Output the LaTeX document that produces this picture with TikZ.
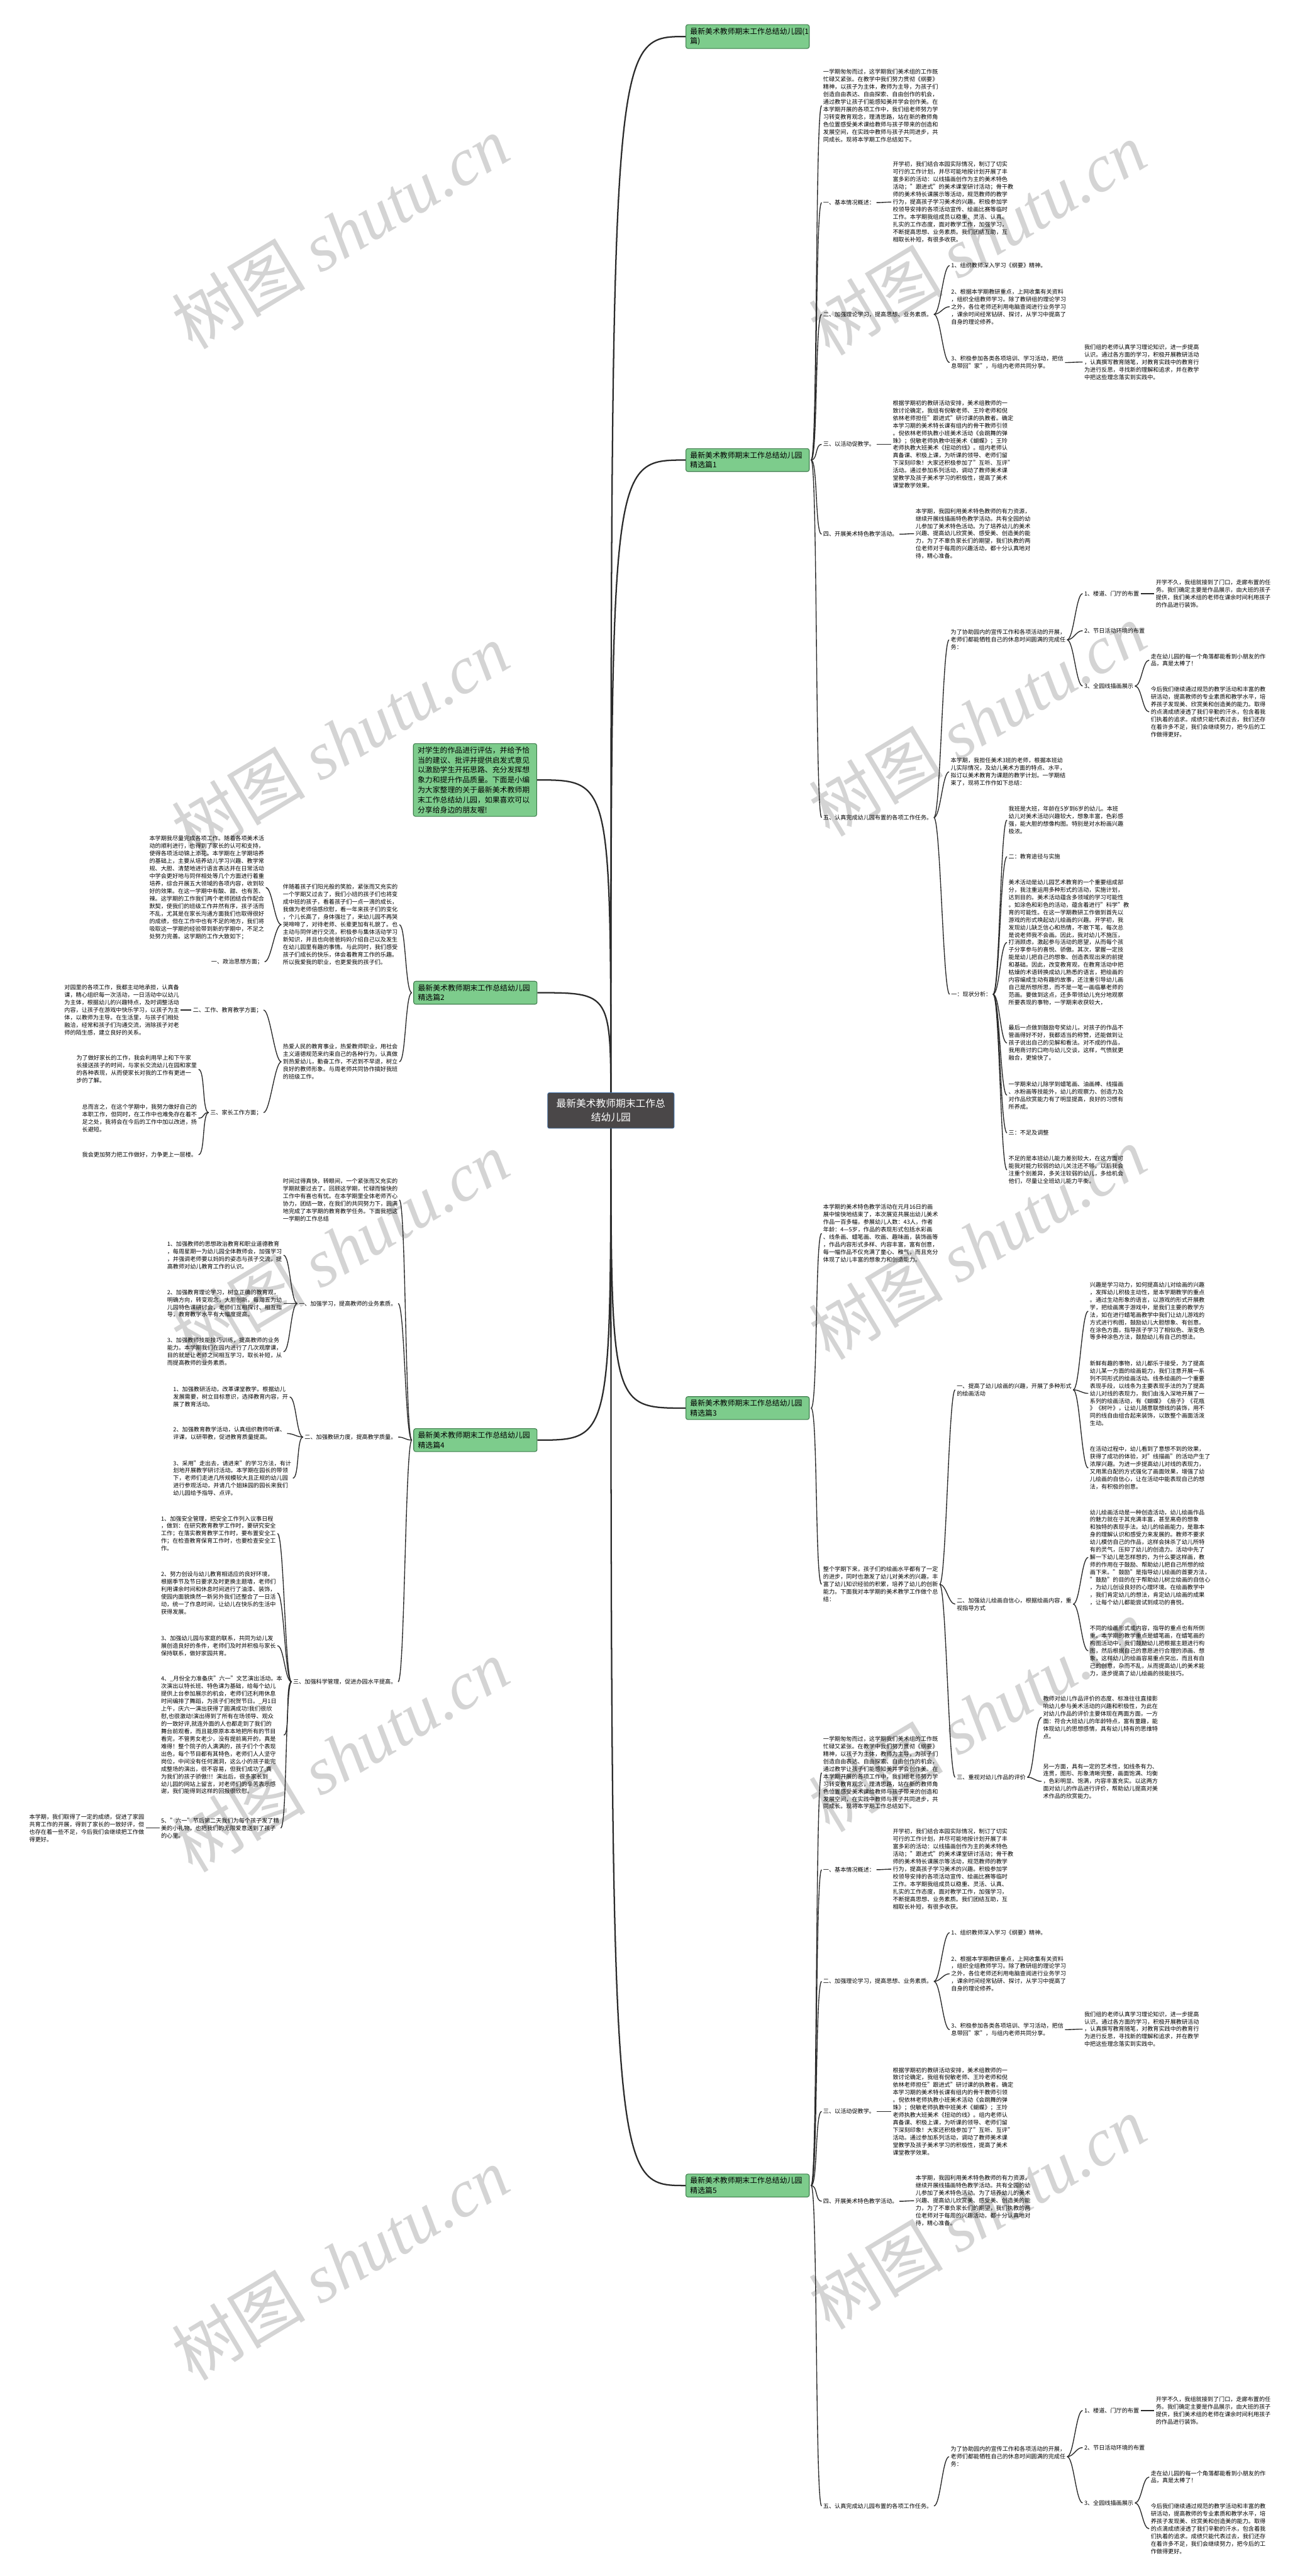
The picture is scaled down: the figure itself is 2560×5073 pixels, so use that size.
\documentclass[tikz,border=0pt]{standalone}
\usepackage{fontspec}
\setmainfont{Noto Sans CJK SC}
\newfontfamily\wmlat{Liberation Serif}
\usetikzlibrary{calc}
\pgfdeclarelayer{bg}
\pgfsetlayers{bg,main}
\definecolor{grn}{HTML}{7DCC8C}
\definecolor{grnb}{HTML}{3E7D4C}
\definecolor{rootf}{HTML}{4A4748}
\definecolor{rootb}{HTML}{3D6FA8}
\definecolor{lnc}{HTML}{2B2B2B}
\definecolor{wmc}{HTML}{D4D4D4}
\newcommand\fsz{\fontsize{11.3}{14.8}\selectfont}
\newcommand\fbz{\fontsize{14.7}{19.6}\selectfont}
\newcommand\frz{\fontsize{19.5}{27}\selectfont}
\newcommand\rcn[2]{\draw[con] ([xshift=3]#1.east) .. controls +(13,0) and +(-13,0) .. ([xshift=-3]#2.west);}
\newcommand\lcn[2]{\draw[con] ([xshift=-3]#1.west) .. controls +(-13,0) and +(13,0) .. ([xshift=3]#2.east);}
\newcommand\rtc[1]{\draw[rcon] (root.center) .. controls (root.center |- #1.west) .. (#1.west);}
\newcommand\ltc[1]{\draw[rcon] (root.center) .. controls (root.center |- #1.east) .. (#1.east);}
% shared texts
\newcommand\txIntro{一学期匆匆而过，这学期我们美术组的工作既\\忙碌又紧张。在教学中我们努力贯彻《纲要》\\精神，以孩子为主体，教师为主导，为孩子们\\创造自由表达、自由探索、自由创作的机会，\\通过教学让孩子们能感知美并学会创作美。在\\本学期开展的各项工作中，我们组老师努力学\\习转变教育观念，理清思路，站在新的教师角\\色位置感受美术课给教师与孩子带来的创造和\\发展空间，在实践中教师与孩子共同进步，共\\同成长。现将本学期工作总结如下。}
\newcommand\txOneA{开学初，我们结合本园实际情况，制订了切实\\可行的工作计划，并尽可能地按计划开展了丰\\富多彩的活动：以线描画创作为主的美术特色\\活动；"跟进式"的美术课堂研讨活动；骨干教\\师的美术特长课展示等活动，规范教师的教学\\行为，提高孩子学习美术的兴趣。积极参加学\\校领导安排的各项活动宣传、绘画比赛等临时\\工作。本学期我组成员以稳重、灵活、认真、\\扎实的工作态度，面对教学工作，加强学习，\\不断提高思想、业务素质。我们团结互助，互\\相取长补短，有很多收获。}
\newcommand\txTwoB{2、根据本学期教研重点，上网收集有关资料\\，组织全组教师学习。除了教研组的理论学习\\之外，各位老师还利用电脑查阅进行业务学习\\，课余时间经常钻研、探讨，从学习中提高了\\自身的理论修养。}
\newcommand\txTwoC{3、积极参加各类各项培训、学习活动，把信\\息带回"家"，与组内老师共同分享。}
\newcommand\txTwoCa{我们组的老师认真学习理论知识，进一步提高\\认识。通过各方面的学习，积极开展教研活动\\，认真撰写教育随笔，对教育实践中的教育行\\为进行反思，寻找新的理解和追求，并在教学\\中把这些理念落实到实践中。}
\newcommand\txThreeA{根据学期初的教研活动安排，美术组教师的一\\致讨论确定，我组有倪敏老师、王玲老师和倪\\依林老师担任"跟进式"研讨课的执教者。确定\\本学习期的美术特长课有组内的骨干教师引领\\。倪依林老师执教小班美术活动《会跳舞的弹\\珠》；倪敏老师执教中班美术《蝴蝶》；王玲\\老师执教大班美术《扭动的线》。组内老师认\\真备课、积极上课，为听课的领导、老师们留\\下深刻印象！大家还积极参加了"互听、互评"\\活动。通过参加系列活动，调动了教师美术课\\堂教学及孩子美术学习的积极性，提高了美术\\课堂教学效果。}
\newcommand\txFourA{本学期，我园利用美术特色教师的有力资源，\\继续开展线描画特色教学活动。共有全园的幼\\儿参加了美术特色活动。为了培养幼儿的美术\\兴趣、提高幼儿欣赏美、感受美、创造美的能\\力，为了不辜负家长们的期望，我们执教的两\\位老师对于每周的兴趣活动，都十分认真地对\\待，精心准备。}
\newcommand\txFiveA{为了协助园内的宣传工作和各项活动的开展，\\老师们都能牺牲自己的休息时间圆满的完成任\\务：}
\newcommand\txFiveAa{开学不久，我组就接到了门口，走廊布置的任\\务。我们确定主要是作品展示，由大班的孩子\\提供，我们美术组的老师在课余时间利用孩子\\的作品进行装饰。}
\newcommand\txFiveAc{走在幼儿园的每一个角落都能看到小朋友的作\\品，真是太棒了！}
\newcommand\txFiveAd{今后我们继续通过规范的教学活动和丰富的教\\研活动，提高教师的专业素质和教学水平，培\\养孩子发现美、欣赏美和创造美的能力。取得\\的点滴成绩浸透了我们辛勤的汗水，包含着我\\们执着的追求。成绩只能代表过去，我们还存\\在着许多不足，我们会继续努力，把今后的工\\作做得更好。}
\begin{document}
\begin{tikzpicture}[x=1pt,y=-1pt,
 tx/.style={font=\fsz, align=left, inner sep=0pt, anchor=west, text=black},
 tl/.style={tx, anchor=east},
 brn/.style={draw=grnb, fill=grn, rounded corners=4pt, line width=1.3pt, font=\fbz, align=left, text width=226pt, inner xsep=8.5pt, inner ysep=6pt, anchor=west},
 con/.style={draw=lnc, line width=1.7pt},
 rcon/.style={draw=lnc, line width=2.8pt},
 wm/.style={text=wmc, font=\fontsize{132}{132}\selectfont, anchor=south west, rotate=31, inner sep=0pt}]
\useasboundingbox (0,0) rectangle (2560,5073);
% root and branches
\node[draw=rootb, fill=rootf, text=white, font=\frz, align=center, minimum width=249pt, minimum height=70pt, rounded corners=3pt, line width=1pt] (root) at (1203,2187) {最新美术教师期末工作总\\结幼儿园};
\node[brn] (r1) at (1350,72) {最新美术教师期末工作总结幼儿园(1\\篇)};
\node[brn] (r2) at (1350,906) {最新美术教师期末工作总结幼儿园\\精选篇1};
\node[brn] (r3) at (1350,2773) {最新美术教师期末工作总结幼儿园\\精选篇3};
\node[brn] (r4) at (1350,4304) {最新美术教师期末工作总结幼儿园\\精选篇5};
\node[brn, anchor=center] (l1) at (935.5,1536) {对学生的作品进行评估，并给予恰\\当的建议、批评并提供启发式意见\\以激励学生开拓思路、充分发挥想\\象力和提升作品质量。下面是小编\\为大家整理的关于最新美术教师期\\末工作总结幼儿园，如果喜欢可以\\分享给身边的朋友喔!};
\node[brn] (l2) at (814,1955) {最新美术教师期末工作总结幼儿园\\精选篇2};
\node[brn] (l3) at (814,2836) {最新美术教师期末工作总结幼儿园\\精选篇4};
% ===== R2 =====
\node[tx] (a0) at (1621,208) {\txIntro};
\node[tx] (a1) at (1621,399) {一、基本情况概述：};
\node[tx] (a1a) at (1758,398) {\txOneA};
\node[tx] (a2) at (1621,619) {二、加强理论学习，提高思想、业务素质。};
\node[tx] (a2a) at (1873,523) {1、组织教师深入学习《纲要》精神。};
\node[tx] (a2b) at (1873,604) {\txTwoB};
\node[tx] (a2c) at (1873,714) {\txTwoC};
\node[tx] (a2c1) at (2135,713) {\txTwoCa};
\node[tx] (a3) at (1621,875) {三、以活动促教学。};
\node[tx] (a3a) at (1758,875) {\txThreeA};
\node[tx] (a4) at (1621,1052) {四、开展美术特色教学活动。};
\node[tx] (a4a) at (1803,1051) {\txFourA};
\node[tx] (a5) at (1621,1610) {五、认真完成幼儿园布置的各项工作任务。};
\node[tx] (a5a) at (1872,1260) {\txFiveA};
\node[tx] (a5a1) at (2135,1169) {1、楼道、门厅的布置};
\node[tx] (a5a1a) at (2276,1169) {\txFiveAa};
\node[tx] (a5a2) at (2135,1242) {2、节日活动环境的布置};
\node[tx] (a5a3) at (2135,1351) {3、全园线描画展示};
\node[tx] (a5a3a) at (2266,1300) {\txFiveAc};
\node[tx] (a5a3b) at (2266,1402) {\txFiveAd};
\node[tx] (a5b) at (1872,1520) {本学期，我担任美术3班的老师，根据本班幼\\儿实际情况，及幼儿美术方面的特点、水平，\\拟订以美术教育为课题的教学计划。一学期结\\束了，现将工作作如下总结：};
\node[tx] (a5c) at (1873,1958) {一：现状分析：};
\node[tx] (s1) at (1986,1615) {我班是大班，年龄在5岁到6岁的幼儿。本班\\幼儿对美术活动兴趣较大，想象丰富，色彩感\\强，能大胆的想像构图。特别是对水粉画兴趣\\极浓。};
\node[tx] (s2) at (1986,1687) {二：教育途径与实施};
\node[tx] (s3) at (1986,1856) {美术活动是幼儿园艺术教育的一个重要组成部\\分，我注重运用多种形式的活动，实施计划，\\达到目的。美术活动蕴含多领域的学习可能性\\。如涂色和彩色的活动，蕴含着进行"科学"教\\育的可能性。在这一学期教研工作做到首先以\\游戏的形式唤起幼儿绘画的兴趣。开学初，我\\发现幼儿缺乏信心和热情，不敢下笔，每次总\\是说老师我不会画。因此，我对幼儿不施压，\\打消顾虑，激起参与活动的愿望，从而每个孩\\子分享参与的喜悦、骄傲。其次，掌握一定技\\能是幼儿把自己的想象、创造表现出来的前提\\和基础。因此，改变教育观，在教育活动中把\\枯燥的术语转换成幼儿熟悉的语言，把绘画的\\内容编成生动有趣的故事，还注重引导幼儿画\\自己是所想所思，而不是一笔一画临摹老师的\\范画。要做到这点，还多带领幼儿充分地观察\\所要表现的事物，一学期来收获较大，};
\node[tx] (s4) at (1986,2054) {最后一点做到鼓励夸奖幼儿，对孩子的作品不\\管画得好不好，我都适当的称赞，还能做到让\\孩子说出自己的见解和看法。对不成的作品，\\我用商讨的口吻与幼儿交谈，这样，气愤就更\\融合，更愉快了。};
\node[tx] (s5) at (1986,2157) {一学期来幼儿除学到蜡笔画、油画棒、线描画\\、水粉画等技能外，幼儿的观察力、创造力及\\对作品欣赏能力有了明显提高，良好的习惯有\\所养成。};
\node[tx] (s6) at (1986,2231) {三：不足及调整};
\node[tx] (s7) at (1986,2304) {不足的是本班幼儿能力差别较大，在这方面可\\能我对能力较弱的幼儿关注还不够。以后我会\\注重个别差异，多关注较弱的幼儿，多给机会\\他们，尽量让全班幼儿能力平衡。};
% ===== R3 =====
\node[tx] (b0) at (1621,2429) {本学期的美术特色教学活动在元月16日的画\\展中愉快地结束了，本次展览共展出幼儿美术\\作品一百多幅，参展幼儿人数：43人，作者\\年龄：4—5岁，作品的表现形式包括水彩画\\、线条画、蜡笔画、吹画、趣味画，装饰画等\\，作品内容形式多样、内容丰富，富有创意，\\每一幅作品不仅充满了童心、稚气，而且充分\\体现了幼儿丰富的想象力和创造能力。};
\node[tx] (b1) at (1621,3120) {整个学期下来，孩子们的绘画水平都有了一定\\的进步，同时也激发了幼儿对美术的兴趣，丰\\富了幼儿知识经验的积累，培养了幼儿的创新\\能力。下面我对本学期的美术教学工作做个总\\结：};
\node[tx] (b11) at (1884,2737) {一、提高了幼儿绘画的兴趣，开展了多种形式\\的绘画活动};
\node[tx] (b111) at (2146,2582) {兴趣是学习动力，如何提高幼儿对绘画的兴趣\\，发挥幼儿积极主动性，是本学期教学的重点\\。通过生动形象的语言，以游戏的形式开展教\\学，把绘画寓于游戏中，是我们主要的教学方\\法，如在进行蜡笔画教学中我们让幼儿游戏的\\方式进行构图，鼓励幼儿大胆想象、有创意。\\在涂色方面，指导孩子学习了相似色、渐变色\\等多种涂色方法，鼓励幼儿有自己的想法。};
\node[tx] (b112) at (2146,2744) {新鲜有趣的事物，幼儿都乐于接受，为了提高\\幼儿某一方面的绘画能力，我们注意开展一系\\列不同形式的绘画活动。线条绘画的一个重要\\表现手段，以线条为主要表现手法的为了提高\\幼儿对线的表现力，我们由浅入深地开展了一\\系列的绘画活动，有《蝴蝶》《扇子》《花瓶\\》《树叶》，让幼儿随意联想线的装饰，用不\\同的线自由组合起来装饰，以致整个画面活泼\\生动。};
\node[tx] (b113) at (2146,2891) {在活动过程中，幼儿看到了意想不到的效果，\\获得了成功的体验，对"线描画"的活动产生了\\浓厚兴趣。为进一步提高幼儿对线的表现力，\\又用黑白配的方式强化了画面效果，增强了幼\\儿绘画的自信心，让在活动中能表现自己的想\\法，有积极的创意。};
\node[tx] (b12) at (1884,3159) {二、加强幼儿绘画自信心，根据绘画内容，重\\视指导方式};
\node[tx] (b121) at (2146,3067) {幼儿绘画活动是一种创造活动，幼儿绘画作品\\的魅力就在于其充满丰富，甚至离奇的想象\\和独特的表现手法。幼儿的绘画能力，是靠本\\身的理解认识和感受力来发展的。教师不要求\\幼儿模仿自己的作品，这样会抹杀了幼儿所特\\有的灵气，压抑了幼儿的创造力。活动中先了\\解一下幼儿是怎样想的，为什么要这样画，教\\师的作用在于鼓励、帮助幼儿把自己所想的绘\\画下来。"鼓励"是指导幼儿绘画的首要方法，\\"鼓励"的目的在于帮助幼儿树立绘画的自信心\\，为幼儿创设良好的心理环境。在绘画教学中\\，我们肯定幼儿的想法，肯定幼儿绘画的成果\\，让每个幼儿都能尝试到成功的喜悦。};
\node[tx] (b122) at (2146,3251) {不同的绘画形式或内容，指导的重点也有所侧\\重。本学期的教学重点是蜡笔画，在蜡笔画的\\构图活动中，我们鼓励幼儿把根据主题进行构\\图，然后根据自己的意愿进行合理的添画、想\\象，这样幼儿的绘画容易重点突出，而且有自\\己的创意，杂而不乱，从而提高幼儿的美术能\\力，逐步提高了幼儿绘画的技能技巧。};
\node[tx] (b13) at (1884,3500) {三、重视对幼儿作品的评价};
\node[tx] (b131) at (2054,3382) {教师对幼儿作品评价的态度、标准往往直接影\\响幼儿参与美术活动的兴趣和积极性，为此在\\对幼儿作品的评价主要体现在两面方面，一方\\面：符合大班幼儿的年龄特点，富有童趣，能\\体现幼儿的思想感情，具有幼儿特有的思维特\\点。};
\node[tx] (b132) at (2054,3508) {另一方面，具有一定的艺术性，如线条有力、\\连贯，图形、形象清晰完整，画面饱满、均衡\\，色彩明显、饱满，内容丰富充实。以这两方\\面对幼儿的作品进行评价，帮助幼儿提高对美\\术作品的欣赏能力。};
% ===== R4 =====
\node[tx] (e0) at (1621,3491) {\txIntro};
\node[tx] (e1) at (1621,3682) {一、基本情况概述：};
\node[tx] (e1a) at (1758,3681) {\txOneA};
\node[tx] (e2) at (1621,3902) {二、加强理论学习，提高思想、业务素质。};
\node[tx] (e2a) at (1873,3806) {1、组织教师深入学习《纲要》精神。};
\node[tx] (e2b) at (1873,3887) {\txTwoB};
\node[tx] (e2c) at (1873,3997) {\txTwoC};
\node[tx] (e2c1) at (2135,3996) {\txTwoCa};
\node[tx] (e3) at (1621,4158) {三、以活动促教学。};
\node[tx] (e3a) at (1758,4158) {\txThreeA};
\node[tx] (e4) at (1621,4335) {四、开展美术特色教学活动。};
\node[tx] (e4a) at (1803,4334) {\txFourA};
\node[tx] (e5) at (1621,4935) {五、认真完成幼儿园布置的各项工作任务。};
\node[tx] (e5a) at (1872,4838) {\txFiveA};
\node[tx] (e5a1) at (2135,4747) {1、楼道、门厅的布置};
\node[tx] (e5a1a) at (2276,4747) {\txFiveAa};
\node[tx] (e5a2) at (2135,4820) {2、节日活动环境的布置};
\node[tx] (e5a3) at (2135,4929) {3、全园线描画展示};
\node[tx] (e5a3a) at (2266,4878) {\txFiveAc};
\node[tx] (e5a3b) at (2266,4980) {\txFiveAd};
% ===== L2 =====
\node[tx] (c1) at (557,1821) {伴随着孩子们阳光般的笑脸，紧张而又充实的\\一个学期又过去了，我们小班的孩子们也将变\\成中班的孩子，看着孩子们一点一滴的成长，\\我做为老师倍感欣慰，看一年来孩子们的变化\\，个儿长高了，身体强壮了，来幼儿园不再哭\\哭啼啼了，对待老师、长辈更加有礼貌了。也\\主动与同伴进行交流，积极参与集体活动学习\\新知识，并且也向爸爸妈妈介绍自己以及发生\\在幼儿园里有趣的事情。与此同时，我们感受\\孩子们成长的快乐，体会着教育工作的乐趣。\\所以我爱我的职业，也更爱我的孩子们。};
\node[tx] (c11) at (294,1748) {本学期我尽量完成各项工作。随着各项美术活\\动的顺利进行，也得到了家长的认可和支持，\\使得各项活动锦上添花。本学期在上学期培养\\的基础上，主要从培养幼儿学习兴趣、教学常\\规、大胆、清楚地进行语言表达并在日常活动\\中学会更好地与同伴相处等几个方面进行着重\\培养，综合开展五大领域的各项内容，收到较\\好的效果。在这一学期中有酸、甜、也有苦、\\辣。这学期的工作我们两个老师团结合作配合\\默契，使我们的班级工作井然有序，孩子活而\\不乱，尤其是在家长沟通方面我们也取得很好\\的成绩，但在工作中也有不足的地方，我们将\\吸取这一学期的经验带到新的学期中，不足之\\处努力完善。这学期的工作大致如下；};
\node[tl] (c12) at (518,1894) {一、政治思想方面；};
\node[tx] (c2) at (557,2091) {热爱人民的教育事业，热爱教师职业，用社会\\主义道德规范来约束自己的各种行为，认真做\\到热爱幼儿，勤奋工作，不迟到不早退，树立\\良好的教师形象。与周老师共同协作搞好我班\\的班级工作。};
\node[tl] (c21) at (516,1989) {二、工作、教育教学方面；};
\node[tl] (c211) at (353,1989) {对园里的各项工作，我都主动地承担，认真备\\课，精心组织每一次活动，一日活动中以幼儿\\为主体，根据幼儿的兴趣特点，及时调整活动\\内容，让孩子在游戏中快乐学习，以孩子为主\\体，以教师为主导。在生活里，与孩子们相处\\融洽，经常和孩子们沟通交流，消除孩子对老\\师的陌生感，建立良好的关系。};
\node[tl] (c22) at (516,2191) {三、家长工作方面；};
\node[tl] (c221) at (388,2106) {为了做好家长的工作，我会利用早上和下午家\\长接送孩子的时间，与家长交流幼儿在园和家里\\的各种表现，从而使家长对我的工作有更进一\\步的了解。};
\node[tl] (c222) at (388,2202) {总而言之，在这个学期中，我努力做好自己的\\本职工作，但同时，在工作中也难免存在着不\\足之处，我将会在今后的工作中加以改进，扬\\长避短。};
\node[tl] (c223) at (388,2274) {我会更加努力把工作做好，力争更上一层楼。};
% ===== L3 =====
\node[tx] (d0) at (557,2363) {时间过得真快，转眼间，一个紧张而又充实的\\学期就要过去了。回顾这学期，忙碌而愉快的\\工作中有喜也有忧。在本学期里全体老师齐心\\协力，团结一致，在我们的共同努力下，圆满\\地完成了本学期的教育教学任务。下面我把这\\一学期的工作总结};
\node[tl] (d1) at (781,2567) {一、加强学习，提高教师的业务素质。};
\node[tx] (d11) at (329,2472) {1、加强教师的思想政治教育和职业道德教育\\，每周星期一为幼儿园全体教师会，加强学习\\，并强调老师要以妈妈的姿态与孩子交流，提\\高教师对幼儿教育工作的认识。};
\node[tx] (d12) at (329,2567) {2、加强教育理论学习，树立正确的教育观，\\明确方向，转变观念，大胆创新。每周五为幼\\儿园特色课研讨会，老师们互相探讨、相互指\\导，教育教学水平有大幅度提高。};
\node[tx] (d13) at (329,2662) {3、加强教师技能技巧训练，提高教师的业务\\能力。本学期我们在园内进行了几次观摩课，\\目的就是让老师之间相互学习，取长补短，从\\而提高教师的业务素质。};
\node[tl] (d2) at (781,2830) {二、加强教研力度，提高教学质量。};
\node[tx] (d21) at (341,2751) {1、加强教研活动，改革课堂教学。根据幼儿\\发展需要，树立目标意识，选择教育内容，开\\展了教育活动。};
\node[tx] (d22) at (341,2823) {2、加强教育教学活动，认真组织教师听课、\\评课，以研带教，促进教育质量提高。};
\node[tx] (d23) at (341,2911) {3、采用"走出去，请进来"的学习方法，有计\\划地开展教学研讨活动。本学期在园长的带领\\下，老师们走进几所规模较大且正规的幼儿园\\进行参观活动，并请几个姐妹园的园长来我们\\幼儿园给予指导、点评。};
\node[tl] (d3) at (781,3312) {三、加强科学管理，促进办园水平提高。};
\node[tx] (d31) at (317,3020) {1、加强安全管理，把安全工作列入议事日程\\，做到：在研究教育教学工作时，要研究安全\\工作；在落实教育教学工作时，要布置安全工\\作；在检查教育保育工作时，也要检查安全工\\作。};
\node[tx] (d32) at (317,3137) {2、努力创设与幼儿教育相适应的良好环境，\\根据季节及节日要求及时更换主题墙，老师们\\利用课余时间和休息时间进行了油漆、装饰，\\使园内面貌焕然一新另外我们还整合了一日活\\动，统一了作息时间，让幼儿在快乐的生活中\\获得发展。};
\node[tx] (d33) at (317,3241) {3、加强幼儿园与家庭的联系，共同为幼儿发\\展创造良好的条件，老师们及时并积极与家长\\保持联系，做好家园共育。};
\node[tx] (d34) at (317,3417) {4、\_月份全力准备庆"六一"文艺演出活动。本\\次演出以特长班、特色课为基础，给每个幼儿\\提供上台参加展示的机会，老师们还利用休息\\时间编排了舞蹈，为孩子们祝贺节日。\_月1日\\上午，庆六一演出获得了圆满成功!我们很欣\\慰,也很激动!演出得到了所有在场领导、观众\\的一致好评,就连外面的人也都走到了我们的\\舞台前观看，而且能原原本本地把所有的节目\\看完，不管男女老少，没有提前离开的，真是\\难得！整个院子的人满满的，孩子们个个表现\\出色，每个节目都有其特色，老师们人人坚守\\岗位，中间没有任何漏洞，这么小的孩子能完\\成整场的演出，很不容易，但我们成功了,真\\为我们的孩子骄傲!!！演出后，很多家长到\\幼儿园的网站上留言，对老师们的辛苦表示感\\谢，我们能得到这样的回报很欣慰。};
\node[tx] (d35) at (317,3600) {5、"六一"节后第二天我们为每个孩子发了精\\美的小礼物，也把我们的无限爱意送到了孩子\\的心里。};
\node[tl] (d351) at (284,3600) {本学期，我们取得了一定的成绩，促进了家园\\共育工作的开展，得到了家长的一致好评，但\\也存在着一些不足，今后我们会继续把工作做\\得更好。};
% ===== background: watermark and connectors =====
\begin{pgfonlayer}{bg}
\fill[white] (0,0) rectangle (2560,5073);
\foreach \wy in {700,1700,2700,3700,4700} {\node[wm] at (385,\wy) {树图 {\wmlat\itshape shutu.cn}};}
\foreach \wy in {712,1660,2690,3620,4600} {\node[wm] at (1640,\wy) {树图 {\wmlat\itshape shutu.cn}};}
\rtc{r1}\rtc{r2}\rtc{r3}\rtc{r4}\ltc{l1}\ltc{l2}\ltc{l3}
\foreach \c in {a0,a1,a2,a3,a4,a5} {\rcn{r2}{\c}}
\rcn{a1}{a1a}
\foreach \c in {a2a,a2b,a2c} {\rcn{a2}{\c}}
\rcn{a2c}{a2c1}\rcn{a3}{a3a}\rcn{a4}{a4a}
\foreach \c in {a5a,a5b,a5c} {\rcn{a5}{\c}}
\foreach \c in {a5a1,a5a2,a5a3} {\rcn{a5a}{\c}}
\rcn{a5a1}{a5a1a}\rcn{a5a3}{a5a3a}\rcn{a5a3}{a5a3b}
\foreach \c in {s1,s2,s3,s4,s5,s6,s7} {\rcn{a5c}{\c}}
\rcn{r3}{b0}\rcn{r3}{b1}
\foreach \c in {b11,b12,b13} {\rcn{b1}{\c}}
\foreach \c in {b111,b112,b113} {\rcn{b11}{\c}}
\rcn{b12}{b121}\rcn{b12}{b122}\rcn{b13}{b131}\rcn{b13}{b132}
\foreach \c in {e0,e1,e2,e3,e4,e5} {\rcn{r4}{\c}}
\rcn{e1}{e1a}
\foreach \c in {e2a,e2b,e2c} {\rcn{e2}{\c}}
\rcn{e2c}{e2c1}\rcn{e3}{e3a}\rcn{e4}{e4a}\rcn{e5}{e5a}
\foreach \c in {e5a1,e5a2,e5a3} {\rcn{e5a}{\c}}
\rcn{e5a1}{e5a1a}\rcn{e5a3}{e5a3a}\rcn{e5a3}{e5a3b}
\lcn{l2}{c1}\lcn{l2}{c2}\lcn{c1}{c11}\lcn{c1}{c12}\lcn{c2}{c21}\lcn{c2}{c22}\lcn{c21}{c211}
\foreach \c in {c221,c222,c223} {\lcn{c22}{\c}}
\foreach \c in {d0,d1,d2,d3} {\lcn{l3}{\c}}
\foreach \c in {d11,d12,d13} {\lcn{d1}{\c}}
\foreach \c in {d21,d22,d23} {\lcn{d2}{\c}}
\foreach \c in {d31,d32,d33,d34,d35} {\lcn{d3}{\c}}
\lcn{d35}{d351}
\end{pgfonlayer}
\end{tikzpicture}
\end{document}
